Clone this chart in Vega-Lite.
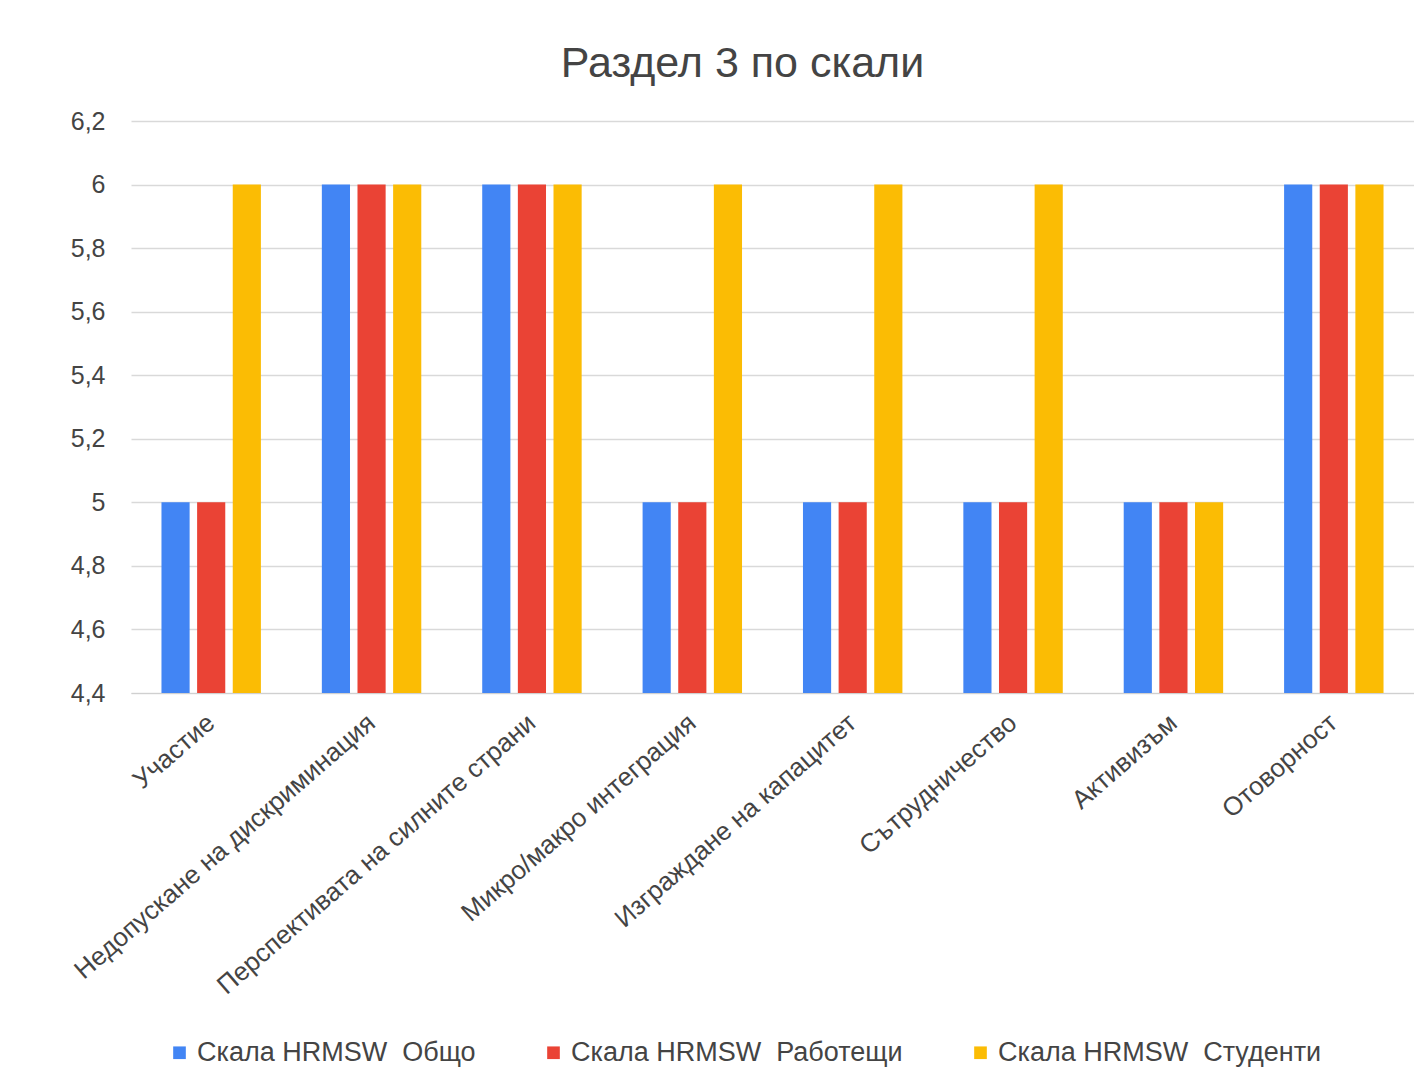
{
  "$schema": "https://vega.github.io/schema/vega-lite/v6.json",
  "autosize": {"type": "none"},
  "width": 1283,
  "height": 572,
  "padding": {"left": 131, "top": 121, "right": 0, "bottom": 380},
  "background": "white",
  "title": {
    "text": "Раздел 3 по скали",
    "font": "Liberation Sans",
    "fontSize": 43,
    "fontWeight": "normal",
    "color": "#444444",
    "anchor": "middle",
    "dx": -30,
    "offset": 23
  },
  "data": {
    "values": [
      {"scale": "Участие", "series": "Скала HRMSW  Общо", "value": 5},
      {"scale": "Участие", "series": "Скала HRMSW  Работещи", "value": 5},
      {"scale": "Участие", "series": "Скала HRMSW  Студенти", "value": 6},
      {"scale": "Недопускане на дискриминация", "series": "Скала HRMSW  Общо", "value": 6},
      {"scale": "Недопускане на дискриминация", "series": "Скала HRMSW  Работещи", "value": 6},
      {"scale": "Недопускане на дискриминация", "series": "Скала HRMSW  Студенти", "value": 6},
      {"scale": "Перспективата на силните страни", "series": "Скала HRMSW  Общо", "value": 6},
      {"scale": "Перспективата на силните страни", "series": "Скала HRMSW  Работещи", "value": 6},
      {"scale": "Перспективата на силните страни", "series": "Скала HRMSW  Студенти", "value": 6},
      {"scale": "Микро/макро интеграция", "series": "Скала HRMSW  Общо", "value": 5},
      {"scale": "Микро/макро интеграция", "series": "Скала HRMSW  Работещи", "value": 5},
      {"scale": "Микро/макро интеграция", "series": "Скала HRMSW  Студенти", "value": 6},
      {"scale": "Изграждане на капацитет", "series": "Скала HRMSW  Общо", "value": 5},
      {"scale": "Изграждане на капацитет", "series": "Скала HRMSW  Работещи", "value": 5},
      {"scale": "Изграждане на капацитет", "series": "Скала HRMSW  Студенти", "value": 6},
      {"scale": "Сътрудничество", "series": "Скала HRMSW  Общо", "value": 5},
      {"scale": "Сътрудничество", "series": "Скала HRMSW  Работещи", "value": 5},
      {"scale": "Сътрудничество", "series": "Скала HRMSW  Студенти", "value": 6},
      {"scale": "Активизъм", "series": "Скала HRMSW  Общо", "value": 5},
      {"scale": "Активизъм", "series": "Скала HRMSW  Работещи", "value": 5},
      {"scale": "Активизъм", "series": "Скала HRMSW  Студенти", "value": 5},
      {"scale": "Отоворност", "series": "Скала HRMSW  Общо", "value": 6},
      {"scale": "Отоворност", "series": "Скала HRMSW  Работещи", "value": 6},
      {"scale": "Отоворност", "series": "Скала HRMSW  Студенти", "value": 6}
    ]
  },
  "mark": {"type": "bar"},
  "encoding": {
    "x": {
      "field": "scale",
      "type": "nominal",
      "sort": null,
      "title": null,
      "scale": {"paddingInner": 0.38, "paddingOuter": 0.19},
      "axis": {
        "labelAngle": -41,
        "labelAlign": "right",
        "labelBaseline": "middle",
        "labelFont": "Liberation Sans",
        "labelFontSize": 26,
        "labelColor": "#444444",
        "labelPadding": 26,
        "labelLimit": 600,
        "ticks": false,
        "domain": true,
        "domainColor": "#d0d0d0",
        "grid": false
      }
    },
    "xOffset": {
      "field": "series",
      "type": "nominal",
      "scale": {"paddingInner": 0.21}
    },
    "y": {
      "field": "value",
      "type": "quantitative",
      "title": null,
      "scale": {"domain": [4.4, 6.2], "zero": false, "nice": false},
      "axis": {
        "values": [4.4, 4.6, 4.8, 5, 5.2, 5.4, 5.6, 5.8, 6, 6.2],
        "labelExpr": "replace(format(datum.value, '.1~f'), '.', ',')",
        "labelFont": "Liberation Sans",
        "labelFontSize": 25,
        "labelColor": "#444444",
        "labelPadding": 26,
        "ticks": false,
        "domain": false,
        "grid": true,
        "gridColor": "#d9d9d9",
        "gridWidth": 1.5
      }
    },
    "y2": {"datum": 4.4},
    "color": {
      "field": "series",
      "type": "nominal",
      "title": null,
      "scale": {
        "domain": ["Скала HRMSW  Общо", "Скала HRMSW  Работещи", "Скала HRMSW  Студенти"],
        "range": ["#4285F4", "#EA4335", "#FBBC04"]
      },
      "legend": {
        "orient": "none",
        "direction": "horizontal",
        "legendX": 35,
        "legendY": 918,
        "symbolType": "square",
        "symbolSize": 160,
        "symbolStrokeWidth": 0,
        "labelFont": "Liberation Sans",
        "labelFontSize": 27,
        "labelColor": "#444444",
        "labelOffset": 4,
        "columnPadding": 64,
        "labelLimit": 500,
        "labelExpr": "replace(datum.label, '  ', ' \u00a0')"
      }
    }
  },
  "config": {
    "view": {"stroke": null}
  }
}
